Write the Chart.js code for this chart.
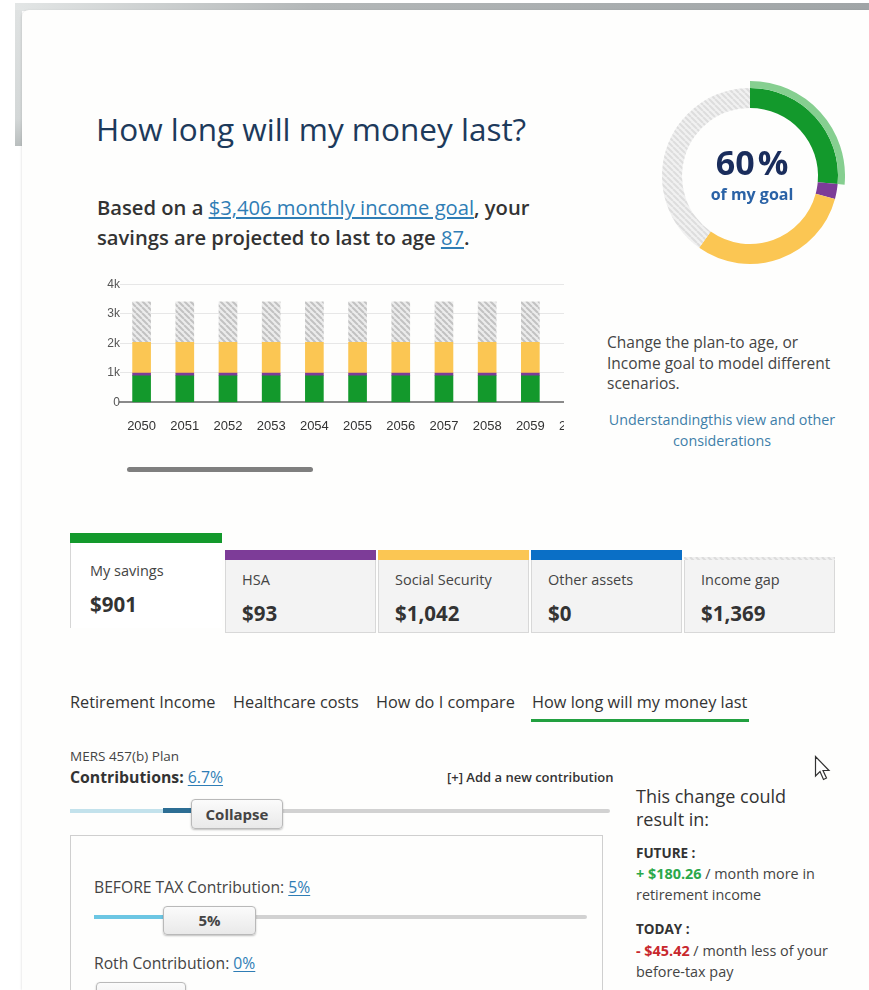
<!DOCTYPE html>
<html><head><meta charset="utf-8">
<script src="https://cdn.jsdelivr.net/npm/chart.js@4.4.0/dist/chart.umd.min.js"></script>
<style>
body{margin:0;width:869px;height:990px;overflow:hidden;background:#fff;font-family:"Open Sans",sans-serif;position:relative;color:#333}
.a{position:absolute;white-space:nowrap}
.lnk{color:#2f7db5;text-decoration:underline;text-underline-offset:2px}
.card{position:absolute;box-sizing:border-box}
.btn{position:absolute;box-sizing:border-box;border:1px solid #b9b9b9;border-radius:4px;background:linear-gradient(#fbfbfb,#e9e9e9);box-shadow:0 1px 2px rgba(0,0,0,.25);font-weight:700;font-size:15px;color:#444;text-align:center}
</style></head><body>

<!-- frame -->
<div class="a" style="left:15px;top:3px;width:854px;height:8px;background:linear-gradient(to right,#e3e6e6,#b3b7b8 35%,#a0a5a7)"></div>
<div class="a" style="left:15px;top:10px;width:7px;height:136px;background:linear-gradient(#dfe2e2,#d3d7d7 80%,#b9bebe)"></div>
<div class="a" style="left:22px;top:10px;width:847px;height:980px;background:#fefefd;border-top-left-radius:7px;box-shadow:-1px 0 2px rgba(0,0,0,.08)"></div>

<div class="a" style="left:96px;top:110px;font-size:31.5px;line-height:38px;color:#1d3a5b">How long will my money last?</div>
<div class="a" style="left:97px;top:192px;font-size:20.2px;line-height:30px;font-weight:600;color:#333">Based on a <span class="lnk" style="font-weight:400">$3,406 monthly income goal</span>, your<br>savings are projected to last to age <span class="lnk" style="font-weight:400">87</span>.</div>

<div id="barwrap" class="a" style="left:100px;top:277px;width:464px;height:173px;overflow:hidden">
  <canvas id="bars" width="504" height="173"></canvas>
</div>
<div class="a" style="left:127px;top:467px;width:186px;height:5px;border-radius:3px;background:#7f7f7f"></div>

<canvas id="donut" class="a" style="left:655px;top:81px" width="190" height="190"></canvas>
<div id="pct" class="a" style="left:680px;top:141px;width:144px;text-align:center;font-size:34px;line-height:42px;font-weight:700;color:#1a2d5c"></div>
<div class="a" style="left:680px;top:183px;width:144px;text-align:center;font-size:16px;line-height:22px;font-weight:700;color:#2a62a6">of my goal</div>

<div class="a" style="left:607px;top:332px;font-size:15.5px;line-height:20.5px;color:#444">Change the plan-to age, or<br>Income goal to model different<br>scenarios.</div>
<div class="a" style="left:592px;top:409px;width:260px;text-align:center;font-size:14.3px;line-height:21px;color:#3f7fa9;white-space:normal">Understandingthis view and other<br>considerations</div>

<div id="cards"></div>

<!-- tabs -->
<div class="a" style="left:70px;top:691px;font-size:16.3px;line-height:22px;color:#333">Retirement Income</div>
<div class="a" style="left:233px;top:691px;font-size:16.3px;line-height:22px;color:#333">Healthcare costs</div>
<div class="a" style="left:376px;top:691px;font-size:16.3px;line-height:22px;color:#333">How do I compare</div>
<div class="a" style="left:532px;top:691px;font-size:16.3px;line-height:22px;color:#333">How long will my money last</div>
<div class="a" style="left:531px;top:719px;width:218px;height:3px;background:#22a040"></div>

<div class="a" style="left:70px;top:747px;font-size:13.5px;line-height:18px;color:#444">MERS 457(b) Plan</div>
<div class="a" style="left:70px;top:767px;font-size:15.8px;line-height:20px;font-weight:700;color:#333">Contributions: <span class="lnk" style="font-weight:400">6.7%</span></div>
<div class="a" style="left:447px;top:768px;font-size:13px;line-height:18px;font-weight:600;color:#333">[+] Add a new contribution</div>

<div class="a" style="left:70px;top:809px;width:540px;height:4px;background:#d2d2d2;border-radius:2px"></div>
<div class="a" style="left:70px;top:809px;width:100px;height:4px;background:#c3e2ec"></div>
<div class="a" style="left:163px;top:808px;width:32px;height:5px;background:#2d6e94"></div>
<div class="btn" style="left:191px;top:799px;width:92px;height:30px;line-height:28px">Collapse</div>

<div class="a" style="left:70px;top:835px;width:533px;height:170px;border:1px solid #cfcfcf;box-sizing:border-box"></div>
<div class="a" style="left:94px;top:877px;font-size:15.7px;line-height:20px;color:#444">BEFORE TAX Contribution: <span class="lnk">5%</span></div>
<div class="a" style="left:94px;top:915px;width:493px;height:4px;background:#d2d2d2;border-radius:2px"></div>
<div class="a" style="left:94px;top:915px;width:75px;height:4px;background:#6cc6e3"></div>
<div class="btn" style="left:163px;top:906px;width:93px;height:29px;line-height:27px">5%</div>
<div class="a" style="left:94px;top:953px;font-size:15.7px;line-height:20px;color:#444">Roth Contribution: <span class="lnk">0%</span></div>
<div class="btn" style="left:96px;top:982px;width:90px;height:29px"></div>

<div class="a" style="left:636px;top:785px;font-size:18px;line-height:23px;color:#333">This change could<br>result in:</div>
<div class="a" style="left:636px;top:843px;font-size:13.5px;line-height:20px;font-weight:700;color:#333">FUTURE :</div>
<div class="a" style="left:636px;top:863px;font-size:14.4px;line-height:21px;color:#444"><span style="color:#2aa84a;font-weight:700">+ $180.26</span> / month more in<br>retirement income</div>
<div class="a" style="left:636px;top:919px;font-size:13.5px;line-height:20px;font-weight:700;color:#333">TODAY :</div>
<div class="a" style="left:636px;top:940px;font-size:14.4px;line-height:21px;color:#444"><span style="color:#c8282d;font-weight:700">- $45.42</span> / month less of your<br>before-tax pay</div>

<svg class="a" style="left:814px;top:755px" width="20" height="28" viewBox="0 0 20 28"><path d="M1.5 1.5 L1.5 21 L6 16.5 L9.5 24.5 L12.5 23 L9 15.5 L15 15.5 Z" fill="#fff" stroke="#333" stroke-width="1.2"/></svg>

<script>
// ---- data ----
const years = ['2050','2051','2052','2053','2054','2055','2056','2057','2058','2059','2060'];
const mySavings      = [901, 901, 901, 901, 901, 901, 901, 901, 901, 901, 901];
const hsa            = [93, 93, 93, 93, 93, 93, 93, 93, 93, 93, 93];
const socialSecurity = [1042, 1042, 1042, 1042, 1042, 1042, 1042, 1042, 1042, 1042, 1042];
const incomeGap      = [1369, 1369, 1369, 1369, 1369, 1369, 1369, 1369, 1369, 1369, 1369];
const yTicks = [0, 1000, 2000, 3000, 4000];
const yTickLabels = ['0', '1k', '2k', '3k', '4k'];
const sourceLabels = ['My savings', 'HSA', 'Social Security', 'Other assets', 'Income gap'];
const sourceValues = [901, 93, 1042, 0, 1369];
const goalPercent = 60;

function hatch(bg, fg, size, lw){
  const c = document.createElement('canvas'); c.width = c.height = size;
  const x = c.getContext('2d'); x.fillStyle = bg; x.fillRect(0,0,size,size);
  x.strokeStyle = fg; x.lineWidth = lw; x.beginPath();
  for (let k=-1;k<=1;k++){ x.moveTo(k*size,0); x.lineTo(k*size+size,size); }
  x.stroke();
  return x.createPattern(c,'repeat');
}
const cGreen='#13992c', cPurple='#7d3c98', cYellow='#fbc653', cBlue='#0a6fc6';
const barHatch = hatch('#ececec','#c2c2c2',6,2);
const ringHatch = hatch('#f1f1f1','#dddddd',6,2);
const tabHatch = hatch('#f0f0f0','#dcdcdc',6,2);

new Chart(document.getElementById('bars'), {
  type:'bar',
  data:{labels:years, datasets:[
    {label:sourceLabels[0], data:mySavings, backgroundColor:cGreen},
    {label:sourceLabels[1], data:hsa, backgroundColor:cPurple},
    {label:sourceLabels[2], data:socialSecurity, backgroundColor:cYellow},
    {label:sourceLabels[4], data:incomeGap, backgroundColor:barHatch}
  ]},
  options:{
    responsive:false, animation:false, events:[],
    layout:{padding:0},
    datasets:{bar:{barThickness:18}},
    plugins:{legend:{display:false}, tooltip:{enabled:false}},
    scales:{
      x:{stacked:true, grid:{display:false, drawTicks:false}, border:{color:'#8a8a8a', width:2},
         ticks:{autoSkip:false, maxRotation:0, color:'#333', padding:16, font:{size:13, family:'Liberation Sans'}}},
      y:{stacked:true, min:0, max:4000, afterFit:s=>{s.width=20;},
         afterBuildTicks:s=>{s.ticks = yTicks.map(v=>({value:v}));},
         ticks:{callback:(v)=>yTickLabels[yTicks.indexOf(v)], color:'#555', padding:0, font:{size:12, family:'Liberation Sans'}},
         grid:{color:'#e7e7e7', drawTicks:false}, border:{display:false}}
    }
  }
});

const rest = sourceValues.slice(1).reduce((a,b)=>a+b,0);
new Chart(document.getElementById('donut'), {
  type:'doughnut',
  data:{labels:sourceLabels, datasets:[
    {data:[sourceValues[0], rest], backgroundColor:['#86cf90','rgba(0,0,0,0)'], weight:7},
    {data:sourceValues, backgroundColor:[cGreen,cPurple,cYellow,cBlue,ringHatch], weight:20}
  ]},
  options:{responsive:false, animation:false, events:[], cutout:'71.6%',
    borderWidth:0, hoverOffset:0, offset:0, layout:{padding:0},
    plugins:{legend:{display:false}, tooltip:{enabled:false}}}
});
document.getElementById('pct').innerHTML = goalPercent + '<span style="margin-left:3px">%</span>';

// cards
const cardColors = [cGreen, cPurple, cYellow, cBlue, null];
const cardLeft = [70, 225, 378, 531, 684];
let html='';
sourceLabels.forEach((lab,i)=>{
  const active = i===0;
  const top = active?533:550, w = active?152:151;
  const bar = cardColors[i] ? `background:${cardColors[i]}` : '';
  html += `<div class="card" id="tb${i}" style="left:${cardLeft[i]}px;top:${top}px;width:${w}px;height:10px;${bar}"></div>`;
  html += `<div class="card" style="left:${cardLeft[i]}px;top:${top+10}px;width:${w}px;height:${active?85:73}px;`+
    (active?'background:#fff;border-left:1px solid #d6d6d6':'background:#f3f3f3;border:1px solid #d8d8d8;border-top:none')+`"></div>`;
  const lx = cardLeft[i] + (active?20:17);
  html += `<div class="a" style="left:${lx}px;top:${active?561:570}px;font-size:14.5px;line-height:20px;color:#444">${lab}</div>`;
  html += `<div class="a" style="left:${lx}px;top:${active?592:601}px;font-size:20.5px;line-height:24px;font-weight:700;color:#333">$${sourceValues[i].toLocaleString('en-US')}</div>`;
});
document.getElementById('cards').innerHTML = html;
(function(){
  const el = document.getElementById('tb4');
  const c = document.createElement('canvas'); c.width=151; c.height=10;
  const x = c.getContext('2d'); x.fillStyle = tabHatch; x.fillRect(0,0,151,10);
  el.appendChild(c);
})();
</script>
</body></html>
